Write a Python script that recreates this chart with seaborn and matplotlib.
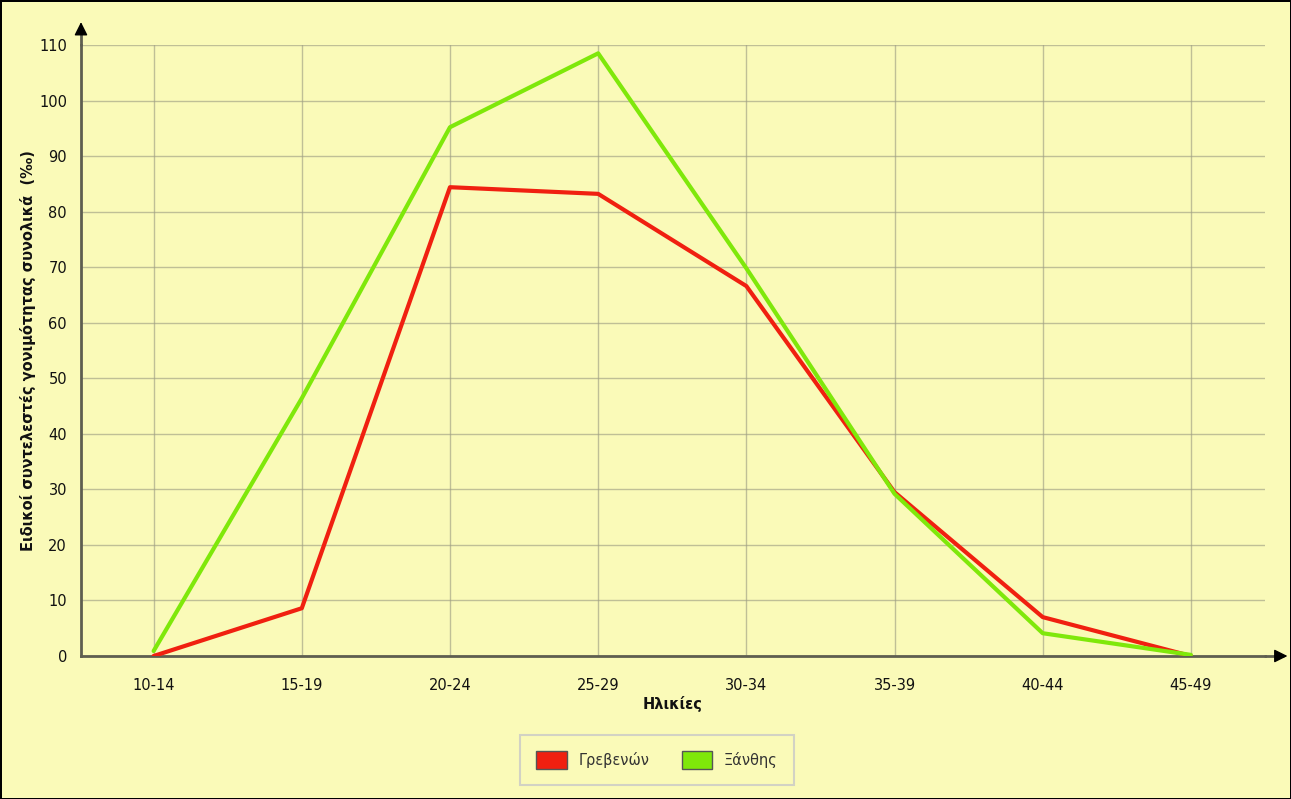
import numpy as np
import pandas as pd
import matplotlib
matplotlib.use('Agg')
import matplotlib.pyplot as plt
from matplotlib.patches import Patch
import seaborn as sns

ages = ['10-14', '15-19', '20-24', '25-29', '30-34', '35-39', '40-44', '45-49']
grevena = [0.0, 8.6, 84.4, 83.2, 66.6, 29.5, 7.0, 0.0]
xanthi = [0.9, 46.4, 95.2, 108.5, 69.8, 29.2, 4.1, 0.2]
series_names = ['Γρεβενών', 'Ξάνθης']
colors = ['#F02010', '#7FE80A']

df = pd.DataFrame({
    'age': ages * 2,
    'pos': list(range(len(ages))) * 2,
    'value': grevena + xanthi,
    'region': [series_names[0]] * len(ages) + [series_names[1]] * len(ages),
})

bg = '#FAFAB8'
sns.set_style('white')
plt.rcParams['font.family'] = ['DejaVu Sans']

fig = plt.figure(figsize=(12.91, 7.99), dpi=100)
fig.patch.set_facecolor(bg)
fig.patch.set_edgecolor('black')
fig.patch.set_linewidth(2)
ax = fig.add_axes([81/1291, 1-656/799, (1265-81)/1291, (656-45)/799])
ax.set_facecolor(bg)

sns.lineplot(data=df, x='pos', y='value', hue='region', palette=colors,
             linewidth=3, ax=ax, legend=False, sort=False)

ax.set_xlim(-0.49, 7.5)
ax.set_ylim(0, 110)
ax.set_yticks(np.arange(0, 111, 10))
ax.set_xticks(range(len(ages)))
ax.set_xticklabels(ages)
ax.grid(True, color='#A0A085', linewidth=1, alpha=0.65)
ax.set_axisbelow(True)
ax.tick_params(axis='both', length=6, color='#A0A085', labelsize=10.5, labelcolor='#111111', pad=4)
ax.tick_params(axis='x', pad=10)

for s in ['top', 'right']:
    ax.spines[s].set_visible(False)
for s in ['left', 'bottom']:
    ax.spines[s].set_color('#5E5E50')
    ax.spines[s].set_linewidth(2)
    ax.spines[s].set_zorder(1)

# arrow heads on axes
ax.plot([1.0, 1.015], [0, 0], transform=ax.transAxes, color='#5E5E50', lw=2, clip_on=False)
ax.plot([0, 0], [1.0, 1.03], transform=ax.transAxes, color='#5E5E50', lw=2, clip_on=False)
ax.annotate('', xy=(1.0213, 0), xycoords='axes fraction', xytext=(1.008, 0),
            arrowprops=dict(arrowstyle='-|>', color='black', lw=1, mutation_scale=20), annotation_clip=False)
ax.annotate('', xy=(0, 1.042), xycoords='axes fraction', xytext=(0, 1.015),
            arrowprops=dict(arrowstyle='-|>', color='black', lw=1, mutation_scale=20), annotation_clip=False)

ax.set_xlabel('Ηλικίες', fontsize=10.5, fontweight='bold', labelpad=2, color='#111111')
ax.set_ylabel('Ειδικοί συντελεστές γονιμότητας συνολικά  (‰)', fontsize=10.5, fontweight='bold',
              labelpad=2, color='#111111')

handles = [Patch(facecolor=c, edgecolor='#555555', label=n) for c, n in zip(colors, series_names)]
leg = fig.legend(handles=handles, loc='center', bbox_to_anchor=(657/1291, 1-760/799), ncol=2,
                 frameon=True, fontsize=10.5, handlelength=2.1, handleheight=1.6,
                 borderpad=1.1, columnspacing=2.2, fancybox=False, labelcolor='#333333')
leg.get_frame().set_facecolor(bg)
leg.get_frame().set_edgecolor('#C8C8C8')
leg.get_frame().set_linewidth(1.5)

fig.savefig('out.png', dpi=100, facecolor=bg, edgecolor='black')
